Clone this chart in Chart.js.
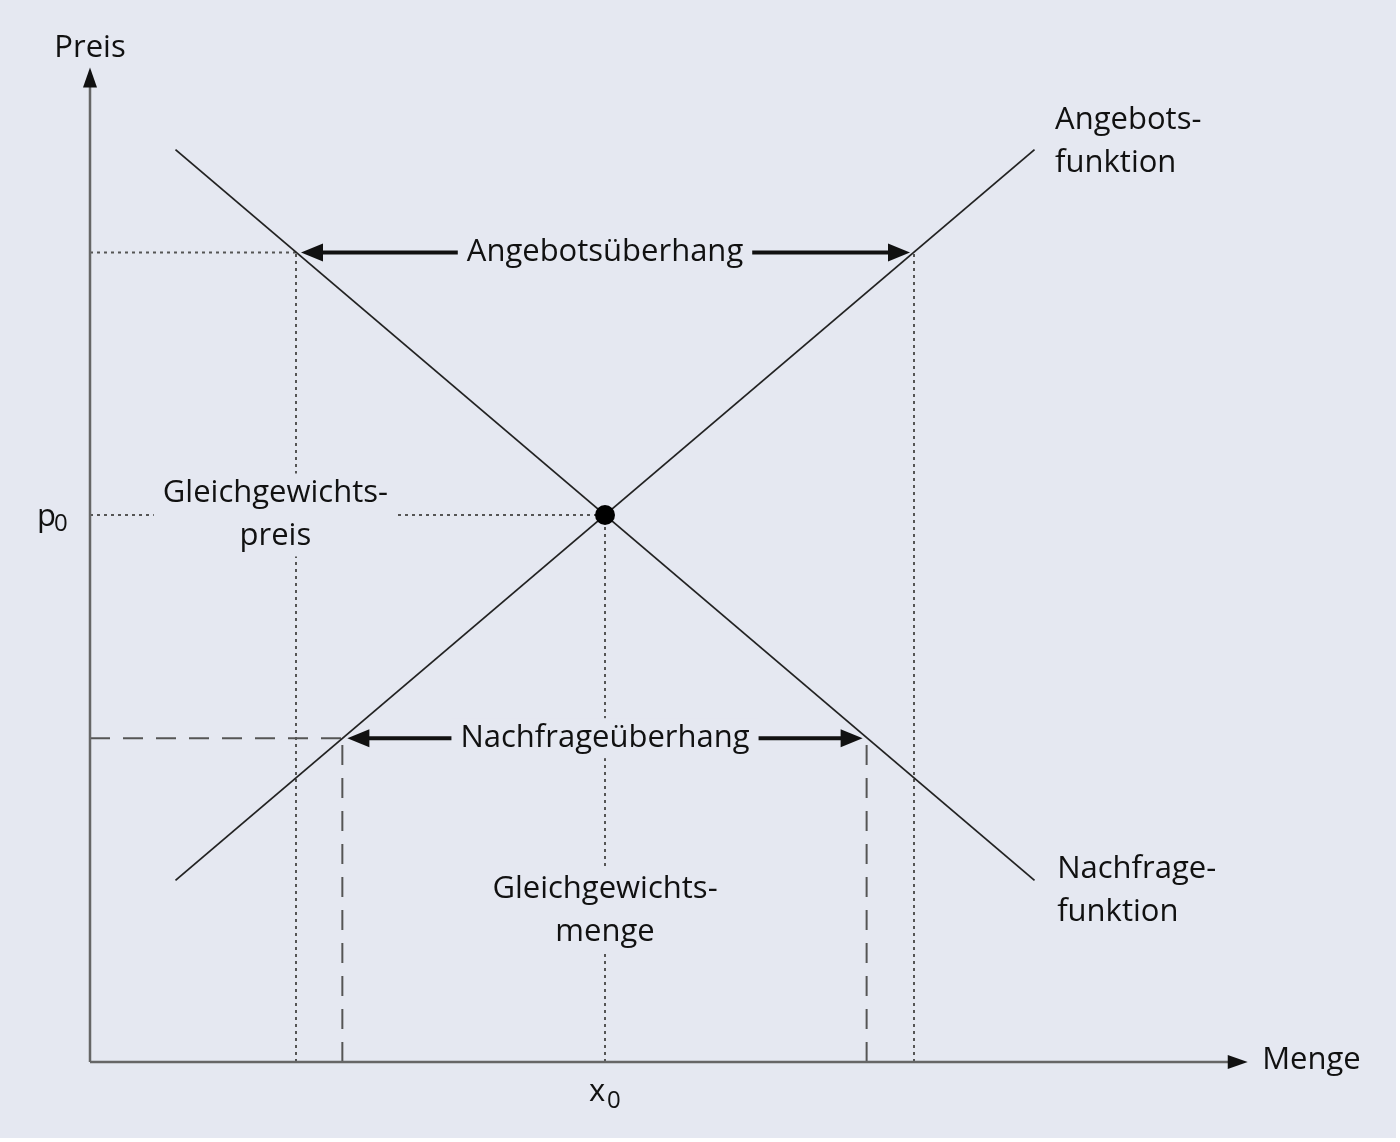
<!DOCTYPE html>
<html>
<head>
<meta charset="utf-8">
<script src="https://cdn.jsdelivr.net/npm/chart.js@4"></script>
<style>
  html, body { margin: 0; padding: 0; background: #ffffff; }
  canvas { display: block; }
</style>
</head>
<body>
<canvas id="marketChart" width="1400" height="1142"></canvas>
<script>
// values (quantity on x, price on y)
const curveQ = [0.83, 9.17];
const demandP = [8.34, 1.66];
const supplyP = [1.66, 8.34];
const eqQ = 5, eqP = 5;
const highP = 7.4;
const highQ = [2, 8];        // demand, supply at high price
const lowP = 2.96;
const lowQ = [2.45, 7.54];   // supply, demand at low price
const axisMaxQ = 11.24, axisMaxP = 9.09;

const bg = "#e5e8f1";
const font = "'Open Sans', sans-serif";

const labels = [
  { lines: ["Angebotsüberhang"], x: 5, y: highP, align: "center", box: true },
  { lines: ["Nachfrageüberhang"], x: 5, y: lowP, align: "center", box: true },
  { lines: ["Gleichgewichts-", "preis"], x: 1.8, y: eqP, align: "center", box: true },
  { lines: ["Gleichgewichts-", "menge"], x: 5, y: 1.38, align: "center", box: true },
  { lines: ["Angebots-", "funktion"], x: 9.37, y: 8.41, align: "left", box: false },
  { lines: ["Nachfrage-", "funktion"], x: 9.39, y: 1.57, align: "left", box: false },
  { lines: ["Preis"], x: 0, y: 9.27, align: "center", box: false },
  { lines: ["Menge"], x: 11.38, y: 0.02, align: "left", box: false }
];

function seg(x1, y1, x2, y2, dash) {
  return {
    type: "line",
    order: 3,
    data: [{ x: x1, y: y1 }, { x: x2, y: y2 }],
    borderColor: "#555",
    borderWidth: 2,
    borderDash: dash,
    pointRadius: 0,
    fill: false
  };
}

const dot = [3, 4];
const dash = [20, 13];

const datasets = [
  seg(0, highP, highQ[0], highP, dot),
  seg(highQ[0], 0, highQ[0], highP, dot),
  seg(highQ[1], 0, highQ[1], highP, dot),
  seg(0, eqP, eqQ, eqP, dot),
  seg(eqQ, 0, eqQ, eqP, dot),
  seg(0, lowP, lowQ[0], lowP, dash),
  seg(lowQ[0], 0, lowQ[0], lowP, dash),
  seg(lowQ[1], 0, lowQ[1], lowP, dash),
  {
    type: "line",
    order: 2,
    data: curveQ.map((q, i) => ({ x: q, y: demandP[i] })),
    borderColor: "#222", borderWidth: 1.8, pointRadius: 0, fill: false
  },
  {
    type: "line",
    order: 2,
    data: curveQ.map((q, i) => ({ x: q, y: supplyP[i] })),
    borderColor: "#222", borderWidth: 1.8, pointRadius: 0, fill: false
  },
  {
    type: "scatter",
    order: 1,
    data: [{ x: eqQ, y: eqP }],
    pointRadius: 10, pointBackgroundColor: "#000", pointBorderColor: "#000", pointBorderWidth: 0
  }
];

function head(ctx, x, y, dir, len, w) {
  // dir: unit vector the tip points to
  ctx.beginPath();
  ctx.moveTo(x, y);
  ctx.lineTo(x - dir[0] * len - dir[1] * w / 2, y - dir[1] * len + dir[0] * w / 2);
  ctx.lineTo(x - dir[0] * len + dir[1] * w / 2, y - dir[1] * len - dir[0] * w / 2);
  ctx.closePath();
  ctx.fill();
}

const drawPlugin = {
  id: "drawPlugin",
  beforeDraw(chart) {
    const ctx = chart.ctx;
    ctx.save();
    ctx.fillStyle = bg;
    ctx.fillRect(0, 0, 1396, 1138);
    ctx.restore();
  },
  afterDatasetsDraw(chart) {
    const ctx = chart.ctx;
    const xs = chart.scales.x, ys = chart.scales.y;
    const px = v => xs.getPixelForValue(v);
    const py = v => ys.getPixelForValue(v);
    ctx.save();

    // axes
    ctx.strokeStyle = "#666";
    ctx.lineWidth = 2.5;
    ctx.beginPath();
    ctx.moveTo(px(0), py(0));
    ctx.lineTo(px(0), py(axisMaxP) + 10);
    ctx.moveTo(px(0), py(0));
    ctx.lineTo(px(axisMaxQ) - 10, py(0));
    ctx.stroke();
    ctx.fillStyle = "#111";
    head(ctx, px(0), py(axisMaxP), [0, -1], 20, 14);
    head(ctx, px(axisMaxQ), py(0), [1, 0], 20, 14);

    // surplus / shortage arrows
    [[highQ, highP], [lowQ, lowP]].forEach(([q, p]) => {
      const x1 = px(q[0]) + 5, x2 = px(q[1]) - 4, y = py(p);
      ctx.strokeStyle = "#111";
      ctx.lineWidth = 4;
      ctx.beginPath();
      ctx.moveTo(x1 + 15, y);
      ctx.lineTo(x2 - 15, y);
      ctx.stroke();
      head(ctx, x1, y, [-1, 0], 22, 18);
      head(ctx, x2, y, [1, 0], 22, 18);
    });

    // labels
    ctx.font = "31px " + font;
    ctx.textBaseline = "middle";
    const lh = 43;
    labels.forEach(l => {
      const cx = px(l.x), cy = py(l.y);
      const top = cy - (l.lines.length - 1) * lh / 2;
      if (l.box) {
        const w = Math.max(...l.lines.map(t => ctx.measureText(t).width));
        ctx.fillStyle = bg;
        ctx.fillRect(cx - w / 2 - 9, top - 20, w + 18, (l.lines.length - 1) * lh + 40);
      }
      ctx.fillStyle = "#111";
      ctx.textAlign = l.align;
      l.lines.forEach((t, i) => ctx.fillText(t, cx, top + i * lh));
    });

    // p0 and x0 with subscripts
    ctx.textAlign = "left";
    ctx.font = "31px " + font;
    ctx.fillText("p", px(0) - 53, py(eqP) + 2);
    ctx.fillText("x", px(eqQ) - 16, py(0) + 30);
    ctx.font = "24px " + font;
    ctx.fillText("0", px(0) - 36, py(eqP) + 9);
    ctx.fillText("0", px(eqQ) + 2, py(0) + 39);

    ctx.restore();
  }
};

new Chart(document.getElementById("marketChart").getContext("2d"), {
  type: "scatter",
  data: { datasets: datasets },
  options: {
    responsive: false,
    animation: false,
    devicePixelRatio: 1,
    layout: { padding: { left: 90, right: 125.5, top: 55.5, bottom: 80 } },
    plugins: { legend: { display: false }, tooltip: { enabled: false } },
    scales: {
      x: { type: "linear", min: 0, max: 11.5, display: false },
      y: { type: "linear", min: 0, max: 9.2, display: false }
    }
  },
  plugins: [drawPlugin]
});
</script>
</body>
</html>
